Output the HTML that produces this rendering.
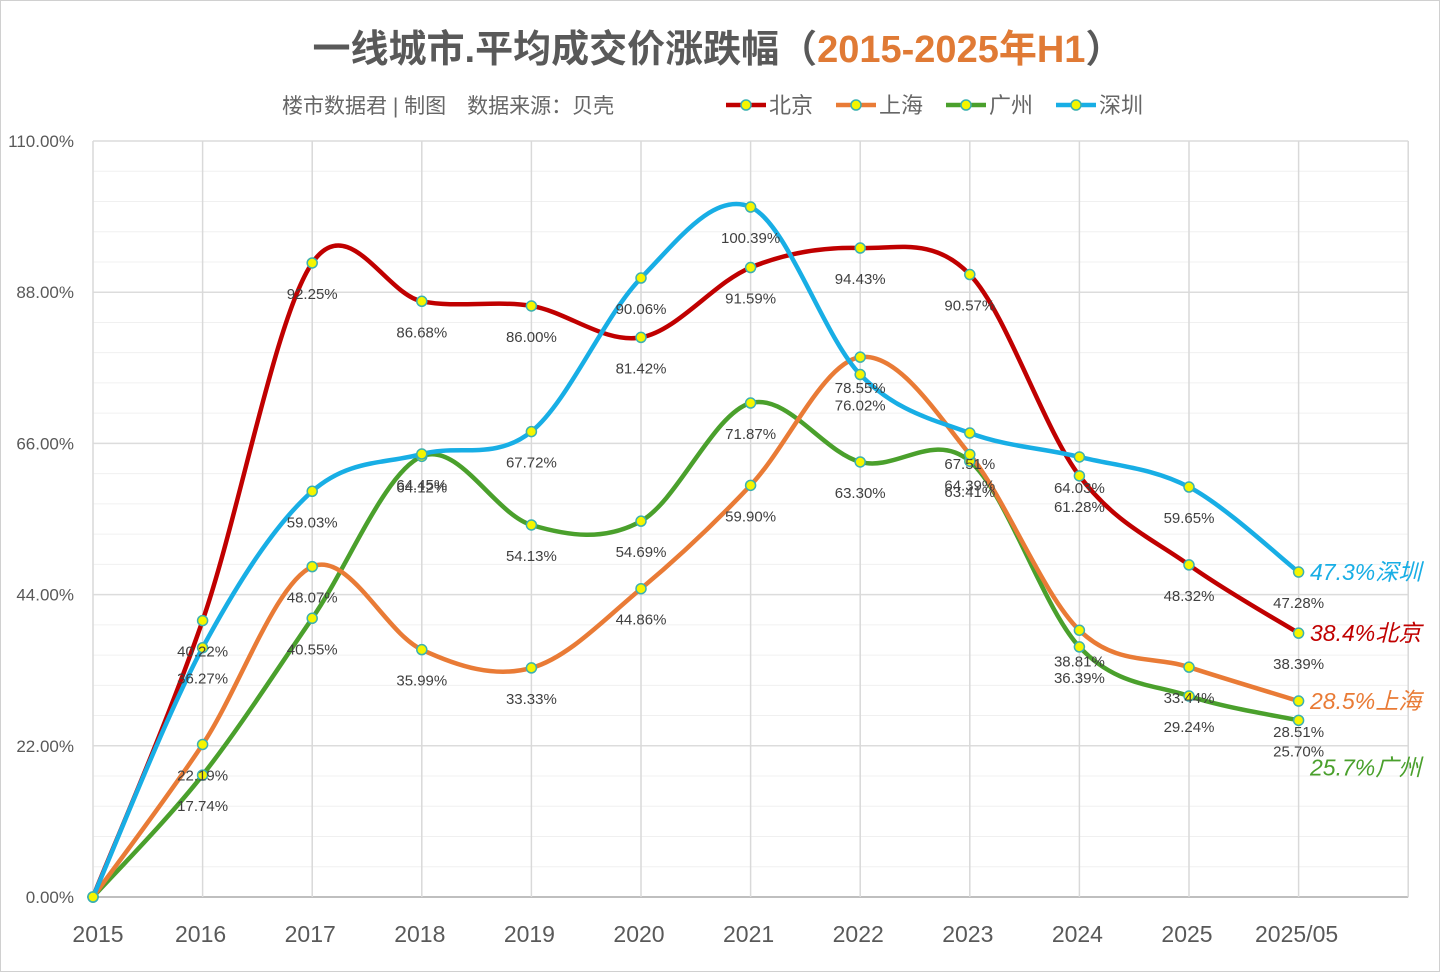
<!DOCTYPE html>
<html><head><meta charset="utf-8">
<style>
body{margin:0;background:#fff;}
svg{display:block;font-family:"Liberation Sans","Noto Sans CJK SC",sans-serif;}
</style></head>
<body>
<svg id="chart" width="1440" height="972" viewBox="0 0 1440 972">
<rect x="0.5" y="0.5" width="1439" height="971" fill="#fff" stroke="#d0d0d0"/>
<text x="718" y="62" text-anchor="middle" font-size="38" font-weight="bold" fill="#595959">一线城市.平均成交价涨跌幅（<tspan fill="#e07a35">2015-2025年H1</tspan>）</text>
<text x="282" y="113" font-size="21" fill="#666">楼市数据君 | 制图　数据来源：贝壳</text>
<g id="legend"></g>
<g id="grid"></g>
<g id="axes"></g>
<g id="series"></g>
<g id="labels"></g>
</svg>
<script>
const categories=["2015","2016","2017","2018","2019","2020","2021","2022","2023","2024","2025","2025/05"];
const yTicks=[0,22,44,66,88,110];
const beijing=[0,40.22,92.25,86.68,86.00,81.42,91.59,94.43,90.57,61.28,48.32,38.39];
const shanghai=[0,22.19,48.07,35.99,33.33,44.86,59.90,78.55,64.39,38.81,33.44,28.51];
const guangzhou=[0,17.74,40.55,64.12,54.13,54.69,71.87,63.30,63.41,36.39,29.24,25.70];
const shenzhen=[0,36.27,59.03,64.45,67.72,90.06,100.39,76.02,67.51,64.03,59.65,47.28];
const names=["北京","上海","广州","深圳"];
const endLabels=["38.4%北京","28.5%上海","25.7%广州","47.3%深圳"];

const NS="http://www.w3.org/2000/svg";
const X0=93,DX=109.6,Y0=897,Y1=141,YMAX=110;
const x=i=>X0+i*DX;
const y=v=>Y0-(v/YMAX)*(Y0-Y1);
function mk(tag,attrs,parent,text){const e=document.createElementNS(NS,tag);for(const k in attrs)e.setAttribute(k,attrs[k]);if(text!=null)e.textContent=text;parent.appendChild(e);return e;}
const grid=document.getElementById('grid'),axes=document.getElementById('axes'),ser=document.getElementById('series'),lab=document.getElementById('labels'),leg=document.getElementById('legend');

for(let v=4.4;v<YMAX;v+=4.4){const g=mk('line',{x1:X0,x2:x(12),y1:y(v),y2:y(v),stroke:'#f0f0f0','stroke-width':1},grid);}
yTicks.forEach(t=>{
 const g=mk('line',{x1:X0,x2:x(12),y1:y(t),y2:y(t),stroke:t===0?'#bfbfbf':'#dcdcdc','stroke-width':t===0?2:1.5},grid);
 
 const l=mk('text',{x:74,y:y(t)+6,'text-anchor':'end','font-size':17,fill:'#595959'},axes,t.toFixed(2)+'%');
 
});
for(let i=0;i<=12;i++){const g=mk('line',{x1:x(i),x2:x(i),y1:Y1,y2:Y0,stroke:'#d9d9d9','stroke-width':1.5},grid);}
categories.forEach((c,i)=>{const off=i===0?5:-2;const t=mk('text',{x:x(i)+off,y:942,'text-anchor':'middle','font-size':23,fill:'#595959'},axes,c);});

const colors=["#c00000","#e97b36","#4aa02c","#18aee5"];
const data=[beijing,shanghai,guangzhou,shenzhen];
function smooth(pts){let d=`M${pts[0][0]},${pts[0][1]}`;const t=0.5/3*2;
 for(let i=0;i<pts.length-1;i++){const p0=pts[i-1]||pts[i],p1=pts[i],p2=pts[i+1],p3=pts[i+2]||p2;
  const c1=[p1[0]+(p2[0]-p0[0])*t/2,p1[1]+(p2[1]-p0[1])*t/2],c2=[p2[0]-(p3[0]-p1[0])*t/2,p2[1]-(p3[1]-p1[1])*t/2];
  d+=` C${c1[0]},${c1[1]} ${c2[0]},${c2[1]} ${p2[0]},${p2[1]}`;}return d;}
const order=[2,1,0,3];
order.forEach(s=>{const pts=data[s].map((v,i)=>[x(i),y(v)]);
 const p=mk('path',{d:smooth(pts),fill:'none',stroke:colors[s],'stroke-width':4.5,'stroke-linejoin':'round'},ser);
 });
order.forEach(s=>{data[s].forEach((v,i)=>{
 const c=mk('circle',{cx:x(i),cy:y(v),r:5,fill:'#f5f500',stroke:'#3bb0b0','stroke-width':1.5},ser);
 
 if(i>0){const t=mk('text',{x:x(i),y:y(v)+36,'text-anchor':'middle','font-size':15,fill:'#404040'},lab,v.toFixed(2)+'%');
 }
});});
const endY=[y(beijing[11]),y(shanghai[11]),y(guangzhou[11])+47,y(shenzhen[11])];
[0,1,2,3].forEach(s=>{const t=mk('text',{x:1310,y:endY[s]+8,'font-size':23,'font-style':'italic',fill:colors[s]},lab,endLabels[s]);
 });
const lx=[726,836,946,1056];
names.forEach((n,s)=>{
 const g=mk('g',{},leg);
 mk('line',{x1:lx[s],x2:lx[s]+40,y1:105,y2:105,stroke:colors[s],'stroke-width':4.5},g);
 mk('circle',{cx:lx[s]+20,cy:105,r:5,fill:'#f5f500',stroke:'#3bb0b0','stroke-width':1.5},g);
 mk('text',{x:lx[s]+43,y:113,'font-size':22,fill:'#666'},g,n);
});
</script>
</body></html>
